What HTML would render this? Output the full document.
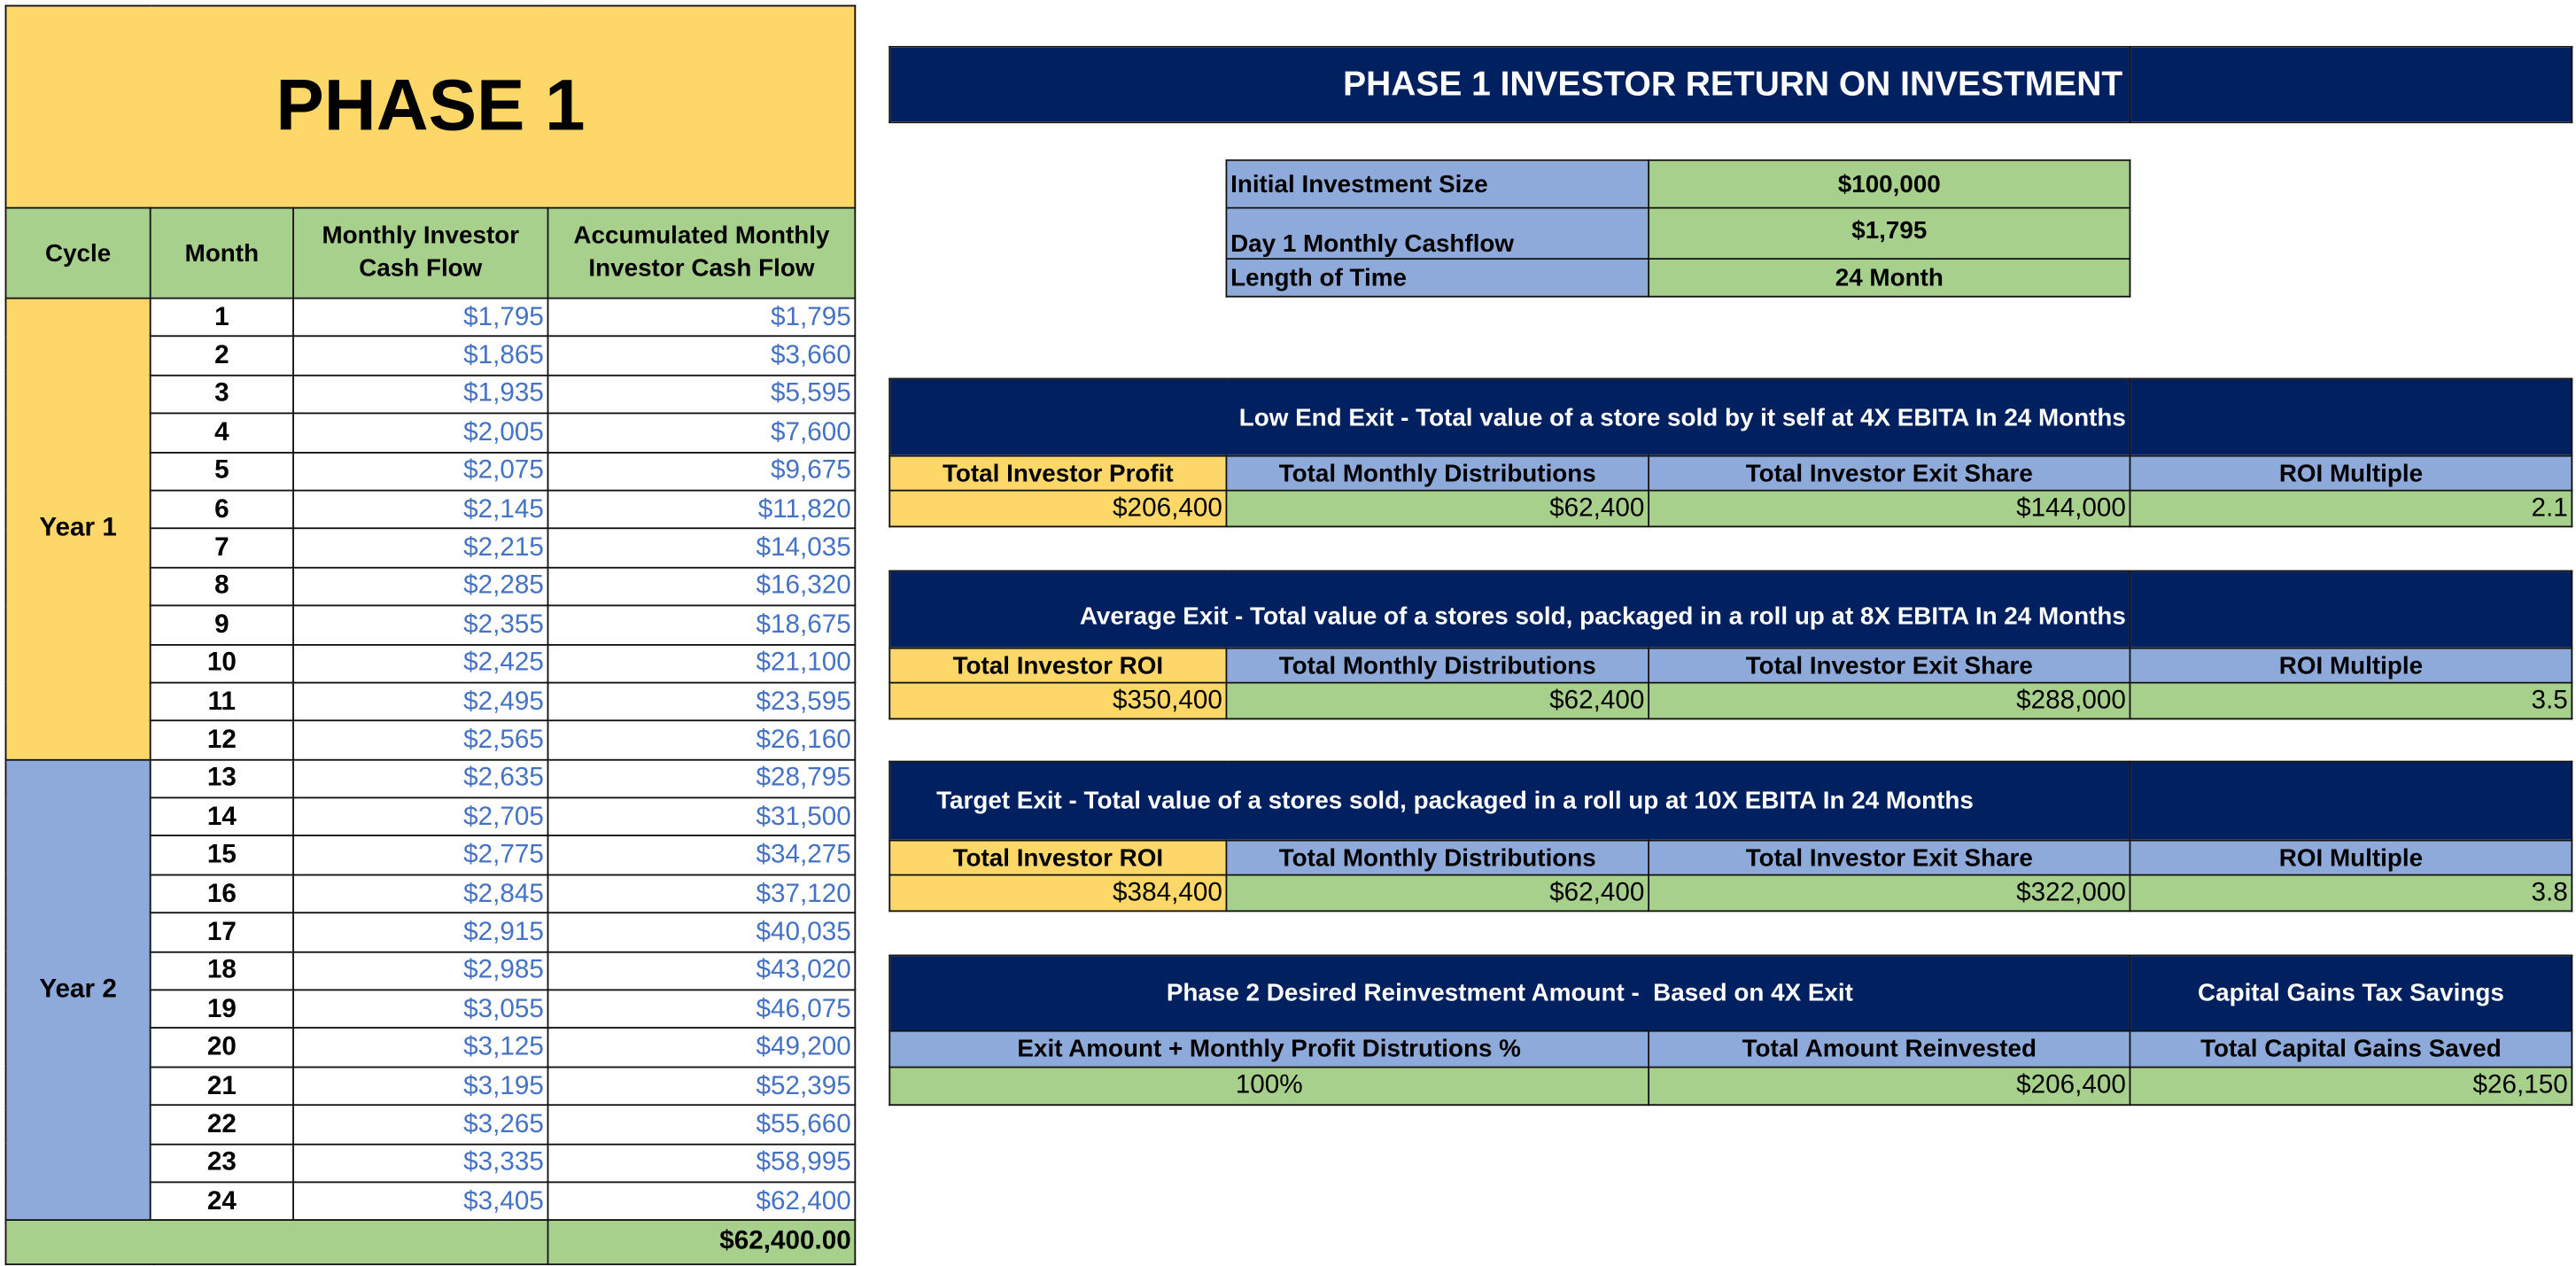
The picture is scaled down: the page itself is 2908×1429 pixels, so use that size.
<!DOCTYPE html>
<html><head><meta charset="utf-8"><style>
html,body{margin:0;padding:0;background:#fff;width:2908px;height:1428px;overflow:hidden}
#w{position:absolute;left:0;top:0;width:1568px;height:770px;transform:scale(1.8546);transform-origin:0 0;font-family:"Liberation Sans Narrow","Liberation Sans",sans-serif}
table{border-collapse:collapse;table-layout:fixed;position:absolute}
td{border:1.3px solid #111;padding:0 2px;font-size:16px;white-space:nowrap;overflow:hidden}
.y{background:#FDD868}.g{background:#A8D08D}.b{background:#8EAADB}.n{background:#002060;color:#fff}
.c{text-align:center}.r{text-align:right}.bd{font-weight:bold}
.l td.v{color:#4472C4;text-align:right;background:#fff}
.l td.m{text-align:center;font-weight:bold;background:#fff}
.l tr.d td{height:22.4px;line-height:21px}
</style></head><body><div id="w">
<table class="l" style="left:3px;top:3px;width:517px">
<colgroup><col style="width:88px"><col style="width:87px"><col style="width:155px"><col style="width:187px"></colgroup>
<tr><td colspan="4" class="y c bd" style="height:122px;font-family:'Liberation Sans',sans-serif;font-size:44px">PHASE 1</td></tr>
<tr><td class="g c bd" style="height:54px;font-size:15px">Cycle</td><td class="g c bd" style="font-size:15px">Month</td><td class="g c bd" style="font-size:15px;white-space:normal;line-height:20px">Monthly Investor Cash Flow</td><td class="g c bd" style="font-size:15px;white-space:normal;line-height:20px">Accumulated Monthly Investor Cash Flow</td></tr>
<tr class="d"><td rowspan="12" class="y c bd">Year 1</td><td class="m">1</td><td class="v">$1,795</td><td class="v">$1,795</td></tr>
<tr class="d"><td class="m">2</td><td class="v">$1,865</td><td class="v">$3,660</td></tr>
<tr class="d"><td class="m">3</td><td class="v">$1,935</td><td class="v">$5,595</td></tr>
<tr class="d"><td class="m">4</td><td class="v">$2,005</td><td class="v">$7,600</td></tr>
<tr class="d"><td class="m">5</td><td class="v">$2,075</td><td class="v">$9,675</td></tr>
<tr class="d"><td class="m">6</td><td class="v">$2,145</td><td class="v">$11,820</td></tr>
<tr class="d"><td class="m">7</td><td class="v">$2,215</td><td class="v">$14,035</td></tr>
<tr class="d"><td class="m">8</td><td class="v">$2,285</td><td class="v">$16,320</td></tr>
<tr class="d"><td class="m">9</td><td class="v">$2,355</td><td class="v">$18,675</td></tr>
<tr class="d"><td class="m">10</td><td class="v">$2,425</td><td class="v">$21,100</td></tr>
<tr class="d"><td class="m">11</td><td class="v">$2,495</td><td class="v">$23,595</td></tr>
<tr class="d"><td class="m">12</td><td class="v">$2,565</td><td class="v">$26,160</td></tr>
<tr class="d"><td rowspan="12" class="b c bd">Year 2</td><td class="m">13</td><td class="v">$2,635</td><td class="v">$28,795</td></tr>
<tr class="d"><td class="m">14</td><td class="v">$2,705</td><td class="v">$31,500</td></tr>
<tr class="d"><td class="m">15</td><td class="v">$2,775</td><td class="v">$34,275</td></tr>
<tr class="d"><td class="m">16</td><td class="v">$2,845</td><td class="v">$37,120</td></tr>
<tr class="d"><td class="m">17</td><td class="v">$2,915</td><td class="v">$40,035</td></tr>
<tr class="d"><td class="m">18</td><td class="v">$2,985</td><td class="v">$43,020</td></tr>
<tr class="d"><td class="m">19</td><td class="v">$3,055</td><td class="v">$46,075</td></tr>
<tr class="d"><td class="m">20</td><td class="v">$3,125</td><td class="v">$49,200</td></tr>
<tr class="d"><td class="m">21</td><td class="v">$3,195</td><td class="v">$52,395</td></tr>
<tr class="d"><td class="m">22</td><td class="v">$3,265</td><td class="v">$55,660</td></tr>
<tr class="d"><td class="m">23</td><td class="v">$3,335</td><td class="v">$58,995</td></tr>
<tr class="d"><td class="m">24</td><td class="v">$3,405</td><td class="v">$62,400</td></tr>
<tr><td colspan="3" class="g" style="height:26px"></td><td class="g r bd">$62,400.00</td></tr>
</table>

<table style="left:541px;top:28px;width:1024px">
<colgroup><col style="width:755px"><col style="width:269px"></colgroup>
<tr><td class="n r bd" style="height:45px;font-size:21px;padding-right:4px">PHASE 1 INVESTOR RETURN ON INVESTMENT</td><td class="n"></td></tr>
</table>

<table style="left:746px;top:97px;width:550px">
<colgroup><col style="width:257px"><col style="width:293px"></colgroup>
<tr><td class="b bd" style="height:28px;font-size:15px">Initial Investment Size</td><td class="g c bd" style="font-size:15px">$100,000</td></tr>
<tr><td class="b bd" style="height:30px;font-size:15px;vertical-align:bottom">Day 1 Monthly Cashflow</td><td class="g c bd" style="font-size:15px;vertical-align:top;padding-top:5px">$1,795</td></tr>
<tr><td class="b bd" style="height:22px;font-size:15px">Length of Time</td><td class="g c bd" style="font-size:15px">24 Month</td></tr>
</table>

<table style="left:541px;top:230px;width:1024px">
<colgroup><col style="width:205px"><col style="width:257px"><col style="width:293px"><col style="width:269px"></colgroup>
<tr><td colspan="3" class="n r bd" style="height:46px;font-size:15px">Low End Exit - Total value of a store sold by it self at 4X EBITA In 24 Months</td><td class="n"></td></tr>
<tr><td class="y c bd" style="height:20px;font-size:15px">Total Investor Profit</td><td class="b c bd" style="font-size:15px">Total Monthly Distributions</td><td class="b c bd" style="font-size:15px">Total Investor Exit Share</td><td class="b c bd" style="font-size:15px">ROI Multiple</td></tr>
<tr><td class="y r" style="height:21px">$206,400</td><td class="g r">$62,400</td><td class="g r">$144,000</td><td class="g r">2.1</td></tr>
</table>

<table style="left:541px;top:347px;width:1024px">
<colgroup><col style="width:205px"><col style="width:257px"><col style="width:293px"><col style="width:269px"></colgroup>
<tr><td colspan="3" class="n r bd" style="height:36px;font-size:15px;vertical-align:bottom;padding-bottom:10px">Average Exit - Total value of a stores sold, packaged in a roll up at 8X EBITA In 24 Months</td><td class="n"></td></tr>
<tr><td class="y c bd" style="height:20px;font-size:15px">Total Investor ROI</td><td class="b c bd" style="font-size:15px">Total Monthly Distributions</td><td class="b c bd" style="font-size:15px">Total Investor Exit Share</td><td class="b c bd" style="font-size:15px">ROI Multiple</td></tr>
<tr><td class="y r" style="height:21px">$350,400</td><td class="g r">$62,400</td><td class="g r">$288,000</td><td class="g r">3.5</td></tr>
</table>

<table style="left:541px;top:463px;width:1024px">
<colgroup><col style="width:205px"><col style="width:257px"><col style="width:293px"><col style="width:269px"></colgroup>
<tr><td colspan="3" class="n bd" style="height:47px;font-size:15px;padding-left:28px">Target Exit - Total value of a stores sold, packaged in a roll up at 10X EBITA In 24 Months</td><td class="n"></td></tr>
<tr><td class="y c bd" style="height:20px;font-size:15px">Total Investor ROI</td><td class="b c bd" style="font-size:15px">Total Monthly Distributions</td><td class="b c bd" style="font-size:15px">Total Investor Exit Share</td><td class="b c bd" style="font-size:15px">ROI Multiple</td></tr>
<tr><td class="y r" style="height:21px">$384,400</td><td class="g r">$62,400</td><td class="g r">$322,000</td><td class="g r">3.8</td></tr>
</table>

<table style="left:541px;top:581px;width:1024px">
<colgroup><col style="width:462px"><col style="width:293px"><col style="width:269px"></colgroup>
<tr><td colspan="2" class="n c bd" style="height:45px;font-size:15px">Phase 2 Desired Reinvestment Amount -&nbsp; Based on 4X Exit</td><td class="n c bd" style="font-size:15px">Capital Gains Tax Savings</td></tr>
<tr><td class="b c bd" style="height:21px;font-size:15px">Exit Amount + Monthly Profit Distrutions %</td><td class="b c bd" style="font-size:15px">Total Amount Reinvested</td><td class="b c bd" style="font-size:15px">Total Capital Gains Saved</td></tr>
<tr><td class="g c" style="height:22px">100%</td><td class="g r">$206,400</td><td class="g r">$26,150</td></tr>
</table>
</div></body></html>
